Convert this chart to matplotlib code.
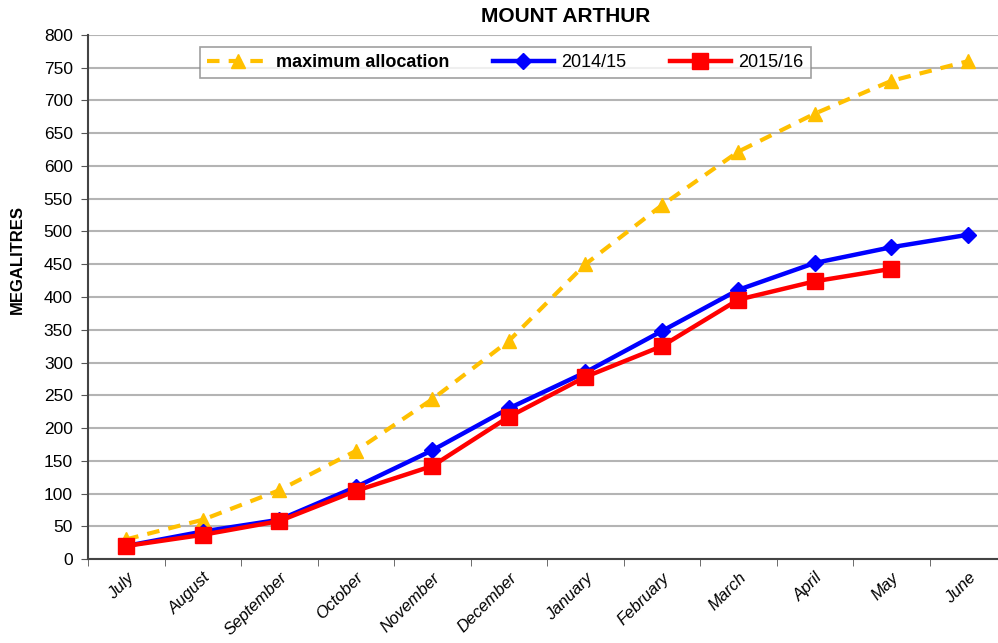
import numpy as np
import matplotlib.pyplot as plt
from matplotlib.ticker import FixedLocator, MultipleLocator

plt.rcParams['font.family'] = ['Liberation Sans', 'DejaVu Sans']

months = ['July', 'August', 'September', 'October', 'November', 'December',
          'January', 'February', 'March', 'April', 'May', 'June']
max_alloc = [30, 60, 105, 165, 244, 333, 450, 540, 622, 680, 730, 760]
y1415 = [20, 42, 60, 110, 166, 230, 285, 348, 411, 452, 476, 495]
y1516 = [20, 37, 58, 104, 142, 217, 278, 325, 396, 424, 443]

fig = plt.figure(figsize=(9.98, 6.43), dpi=100)
ax = fig.add_axes([0.0882, 0.1306, 0.92, 0.815])

x = np.arange(len(months))
ax.plot(x, max_alloc, color='#FFC000', lw=3, ls=(0, (3, 2.2)), marker='^',
        ms=10, label='maximum allocation', zorder=3)
ax.plot(x, y1415, color='#0000FF', lw=3.2, marker='D', ms=8,
        label='2014/15', zorder=4)
ax.plot(x[:len(y1516)], y1516, color='#FF0000', lw=3.2, marker='s', ms=11,
        label='2015/16', zorder=5)

ax.set_xlim(-0.5, len(months) - 0.5)
ax.set_ylim(0, 800)
ax.yaxis.set_major_locator(MultipleLocator(50))
ax.grid(axis='y', color='#b4b4b4', lw=1.5, zorder=0)
ax.set_axisbelow(True)

ax.set_xticks(x)
ax.set_xticklabels(months, rotation=45, ha='right', rotation_mode='anchor',
                   fontstyle='italic', fontsize=12)
ax.tick_params(axis='x', which='major', length=0, pad=8)
ax.xaxis.set_minor_locator(FixedLocator(np.arange(-0.5, len(months), 1)))
ax.tick_params(axis='x', which='minor', length=5, color='#555555')
ax.tick_params(axis='y', length=5, color='#555555', labelsize=12.5, pad=6)

for s in ['top', 'right']:
    ax.spines[s].set_visible(False)
for s in ['left', 'bottom']:
    ax.spines[s].set_color('#444444')
    ax.spines[s].set_linewidth(1.5)

ax.set_ylabel('MEGALITRES', fontweight='bold', fontsize=12)
ax.yaxis.set_label_coords(-0.069, 0.571)
fig.text(0.567, 0.975, 'MOUNT ARTHUR', ha='center', va='center',
         fontweight='bold', fontsize=15)

leg = ax.legend(loc='upper left', bbox_to_anchor=(0.122, 0.977), ncol=3,
                fontsize=13, frameon=True, fancybox=False, edgecolor='#888888',
                handlelength=3.4, handletextpad=0.4, columnspacing=2.4,
                borderpad=0.4, borderaxespad=0)
leg.get_frame().set_linewidth(1.2)
leg.get_texts()[0].set_fontweight('bold')

fig.savefig('out.png', dpi=100)
